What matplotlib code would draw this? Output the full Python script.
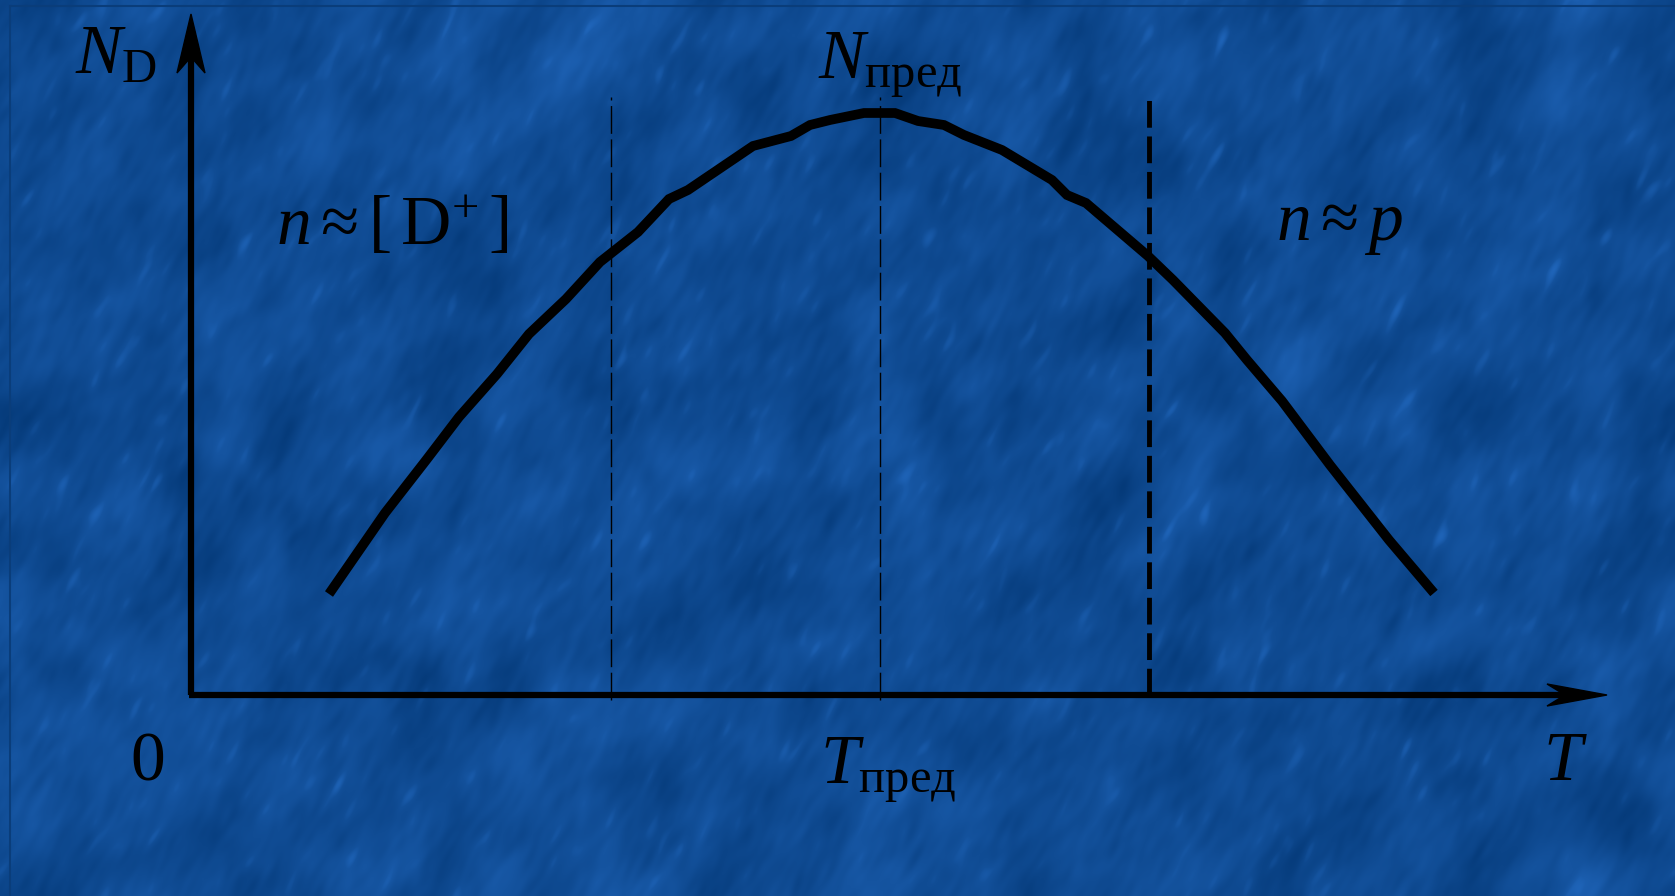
import matplotlib
matplotlib.use("Agg")
import matplotlib.pyplot as plt
import numpy as np
from matplotlib.lines import Line2D
from matplotlib.patches import Polygon

plt.rcParams["font.family"] = ["Liberation Serif", "DejaVu Serif"]
plt.rcParams["mathtext.fontset"] = "custom"
plt.rcParams["mathtext.rm"] = "Liberation Serif"
plt.rcParams["mathtext.it"] = "Liberation Serif:italic"
plt.rcParams["mathtext.bf"] = "Liberation Serif:bold"

# donor concentration vs temperature (arbitrary units)
temperature = [1.38, 1.94, 2.36, 2.68, 3.06, 3.38, 3.75, 4.09, 4.47, 4.78, 4.97,
               5.62, 6.00, 6.19, 6.39, 6.73, 7.04, 7.27, 7.53, 7.73, 8.11, 8.61,
               8.76, 8.95, 9.57, 9.82, 10.34, 10.56, 10.91, 11.39, 11.98, 12.43]
n_donor = [1.01, 1.82, 2.36, 2.78, 3.21, 3.61, 3.96, 4.33, 4.63, 4.96, 5.05,
           5.49, 5.59, 5.70, 5.75, 5.82, 5.82, 5.74, 5.70, 5.60, 5.45, 5.15,
           5.00, 4.92, 4.39, 4.15, 3.62, 3.35, 2.94, 2.30, 1.55, 1.02]

t_left = 4.20
t_limit = 6.89
t_right = 9.58
guide_top = 5.98

W, H, DPI = 1675, 896, 100
xlim = (-1.91, 14.84)
ylim = (-2.01, 6.95)


def streak_texture(h, w, seed=3):
    # blue paper-like background with soft diagonal streaks
    rng = np.random.default_rng(seed)
    fy = np.fft.fftfreq(h)[:, None]
    fx = np.fft.fftfreq(w)[None, :]
    ang = np.deg2rad(62)
    u = fx * np.cos(ang) - fy * np.sin(ang)
    v = fx * np.sin(ang) + fy * np.cos(ang)

    def filt(s_along, s_across):
        noise = rng.standard_normal((h, w))
        g = np.exp(-2 * np.pi ** 2 * (s_along ** 2 * u ** 2 + s_across ** 2 * v ** 2))
        out = np.real(np.fft.ifft2(np.fft.fft2(noise) * g))
        return out / out.std()

    fine = filt(9, 3.0)
    blotch = filt(24, 16)
    val = 0.25 * fine + 0.55 * blotch + 0.7 * np.clip(fine - 1.7, 0, None)
    base = np.array([16, 76, 148]) / 255.0
    tint = np.array([5, 8, 12]) / 255.0
    img = base[None, None, :] + val[:, :, None] * tint[None, None, :]
    return np.clip(img, 0, 1)


fig = plt.figure(figsize=(W / DPI, H / DPI), dpi=DPI)
ax = fig.add_axes([0, 0, 1, 1])
ax.imshow(streak_texture(H, W), extent=(xlim[0], xlim[1], ylim[0], ylim[1]),
          aspect="auto", zorder=0, interpolation="bilinear")
ax.set_xlim(*xlim)
ax.set_ylim(*ylim)
ax.set_axis_off()

# faint frame at top and left edges
fig.add_artist(Line2D([9.5 / W, 9.5 / W], [0, 1 - 6 / H], transform=fig.transFigure,
                      color="#0a3d7a", lw=1.5))
fig.add_artist(Line2D([9.5 / W, 1], [1 - 6 / H, 1 - 6 / H], transform=fig.transFigure,
                      color="#0a3d7a", lw=1.5))

# axes with arrow heads
ax.plot([0, 0], [0, 6.4], color="black", lw=4.5, solid_capstyle="butt", zorder=3)
ax.plot([-0.02, 13.8], [0, 0], color="black", lw=4.5, solid_capstyle="butt", zorder=3)
ax.add_patch(Polygon([(0, 6.81), (0.14, 6.22), (0, 6.38), (-0.14, 6.22)],
                     closed=True, color="black", zorder=4))
ax.add_patch(Polygon([(14.16, 0), (13.56, 0.11), (13.74, 0), (13.56, -0.11)],
                     closed=True, color="black", zorder=4))

# guide lines
for t in (t_left, t_limit):
    ax.plot([t, t], [-0.05, guide_top], color="black", lw=1.0,
            dashes=(20, 4), zorder=2)
ax.plot([t_right, t_right], [0, guide_top], color="black", lw=3.5,
        dashes=(5.5, 1.8), zorder=2)

ax.plot(temperature, n_donor, color="black", lw=7, solid_capstyle="butt",
        solid_joinstyle="miter", zorder=5)

fs = 50
ax.text(-1.16, 6.22, r"$N_{\mathrm{D}}$", fontsize=fs, ha="left", va="baseline")
ax.text(0.85, 4.50, r"$n\approx[\,\mathrm{D}^{+}\,]$", fontsize=fs, ha="left", va="baseline")
ax.text(6.27, 6.17, r"$N_{\mathrm{пред}}$", fontsize=fs, ha="left", va="baseline")
ax.text(10.85, 4.55, r"$n\approx p$", fontsize=fs, ha="left", va="baseline")
ax.text(-0.43, -0.85, "0", fontsize=fs, ha="center", va="baseline")
ax.text(6.29, -0.88, r"$T_{\mathrm{пред}}$", fontsize=fs, ha="left", va="baseline")
ax.text(13.52, -0.85, r"$T$", fontsize=fs, ha="left", va="baseline")

fig.savefig("out.png", dpi=DPI)
plt.close(fig)
